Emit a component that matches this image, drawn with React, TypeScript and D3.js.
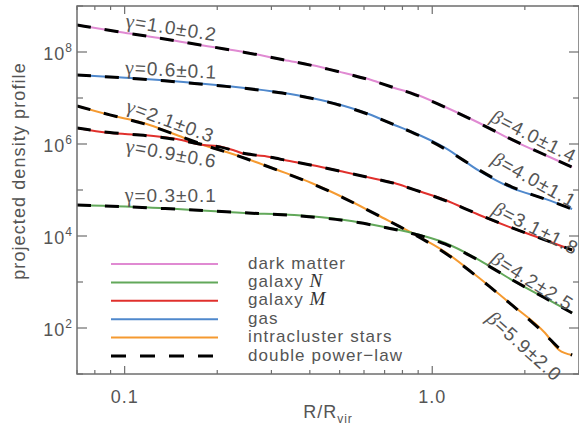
import React from "react";
import * as d3 from "d3";

const W = 579;
const H = 436;
const PLOT = { left: 77, right: 579, top: 6, bottom: 374 };

// ---- data ----
const darkMatterR = [0.070, 0.0964, 0.130, 0.1753, 0.2454, 0.330, 0.405, 0.518, 0.634, 0.753, 0.861, 1.102, 1.422, 1.818, 2.328, 2.849];
const darkMatterRho = [3.86e8, 2.72e8, 2.01e8, 1.42e8, 1.0e8, 6.7e7, 5.2e7, 3.49e7, 2.46e7, 1.65e7, 1.28e7, 6.37e6, 2.86e6, 1.22e6, 5.77e5, 3.16e5];

const gasR = [0.070, 0.130, 0.2454, 0.330, 0.405, 0.518, 0.634, 0.753, 0.861, 1.102, 1.422, 1.818, 2.328, 2.849];
const gasRho = [3.16e7, 2.46e7, 1.65e7, 1.28e7, 1.0e7, 6.7e6, 4.27e6, 2.59e6, 1.82e6, 8.2e5, 2.6e5, 1.1e5, 6.4e4, 3.86e4];

const galaxyMR = [0.070, 0.0894, 0.1153, 0.1476, 0.1800, 0.2000, 0.2300, 0.2454, 0.285, 0.330, 0.405, 0.518, 0.634, 0.753, 0.861, 1.102, 1.422, 1.818, 2.328, 2.849];
const galaxyMRho = [2.23e6, 1.73e6, 1.57e6, 1.28e6, 9.5e5, 9.06e5, 7.05e5, 6.07e5, 5.48e5, 4.49e5, 3.49e5, 2.46e5, 1.82e5, 1.42e5, 1.05e5, 6.07e4, 2.86e4, 1.49e4, 8.2e3, 4.96e3];

const iclR = [0.070, 0.0894, 0.1153, 0.1476, 0.1800, 0.2143, 0.2454, 0.314, 0.405, 0.518, 0.663, 0.861, 1.102, 1.422, 1.818, 2.328, 2.583, 2.849];
const iclRho = [6.7e6, 4.27e6, 2.86e6, 1.57e6, 9.5e5, 6.7e5, 4.96e5, 2.72e5, 1.42e5, 6.7e4, 2.86e4, 1.16e4, 4.49e3, 1.22e3, 316, 77.8, 33.3, 25.9];

const galaxyNR = [0.070, 0.130, 0.2454, 0.356, 0.518, 0.698, 0.861, 1.102, 1.422, 1.818, 2.328, 2.849];
const galaxyNRho = [4.72e4, 4.06e4, 3.16e4, 2.86e4, 2.23e4, 1.57e4, 1.16e4, 7.05e3, 3.0e3, 1.1e3, 449, 212];

const seriesNames = ["dark matter", "galaxy N", "galaxy M", "gas", "intracluster stars"];
const seriesColors = ["#e08ad2", "#62a85a", "#e0302c", "#4f88cc", "#f59a30"];

const legendText = ["dark matter", "galaxy ", "galaxy ", "gas", "intracluster stars", "double power\u2212law"];
const legendItalic = ["", "N", "M", "", "", ""];

const xMajorTicks = [0.1, 1.0];
const xTickLabels = ["0.1", "1.0"];
const yDecades = [1, 2, 3, 4, 5, 6, 7, 8, 9];
const yLabelDecades = [2, 4, 6, 8];

const gammaText = ["1.0\u00b10.2", "0.6\u00b10.1", "2.1\u00b10.3", "0.9\u00b10.6", "0.3\u00b10.1"];
const gammaR = [0.1, 0.1, 0.1, 0.1, 0.1];
const gammaRho = [3.5e8, 3.33e7, 5.1e6, 6.7e5, 5.48e4];
const gammaAngle = [9, 3, 20, 10, 0];

const betaText = ["4.0\u00b11.4", "4.0\u00b11.1", "3.1\u00b11.8", "4.2\u00b12.5", "5.9\u00b12.0"];
const betaR = [1.531, 1.543, 1.554, 1.531, 1.486];
const betaRho = [3.16e6, 3.86e5, 3.16e4, 2.72e3, 149];
const betaAngle = [27, 29, 27, 32, 42];

const AXIS = "#6e6e6e";
const TEXT = "#555";
const SANS = "'Liberation Sans', Arial, Helvetica, sans-serif";
const SERIF = "'Liberation Serif', 'DejaVu Serif', serif";

export default function App() {
  const x = d3.scaleLog().domain([0.07, 3]).range([PLOT.left, PLOT.right]);
  const y = d3.scaleLog().domain([10, 1e9]).range([PLOT.bottom, PLOT.top]);

  const series = [
    { r: darkMatterR, rho: darkMatterRho },
    { r: galaxyNR, rho: galaxyNRho },
    { r: galaxyMR, rho: galaxyMRho },
    { r: gasR, rho: gasRho },
    { r: iclR, rho: iclRho },
  ];
  const drawOrder = [4, 1, 2, 3, 0];

  const line = d3
    .line<[number, number]>()
    .x((d) => x(d[0]))
    .y((d) => y(d[1]))
    .curve(d3.curveMonotoneX);
  const fitLine = d3
    .line<[number, number]>()
    .x((d) => x(d[0]))
    .y((d) => y(d[1]))
    .curve(d3.curveBasis);

  const xMinor: number[] = [];
  [0.01, 0.1, 1].forEach((dec) => {
    for (let k = 1; k <= 9; k++) {
      const v = k * dec;
      if (v >= 0.07 && v <= 3) xMinor.push(v);
    }
  });

  const legendY0 = 264;
  const legendStep = 18.4;

  return (
    <svg width={W} height={H} style={{ position: "absolute", left: 0, top: 0, background: "#fff" }}>
      <defs>
        <clipPath id="plotclip">
          <rect x={PLOT.left} y={PLOT.top} width={PLOT.right - PLOT.left} height={PLOT.bottom - PLOT.top} />
        </clipPath>
      </defs>
      <rect x={0} y={0} width={W} height={H} fill="#fff" />

      {/* curves */}
      <g clipPath="url(#plotclip)">
        {drawOrder.map((i) => {
          const s = series[i];
          const pts = s.r.map((r, j) => [r, s.rho[j]] as [number, number]);
          return (
            <path key={"c" + i} d={line(pts) || ""} fill="none" stroke={seriesColors[i]} strokeWidth={2} />
          );
        })}
        {drawOrder.map((i) => {
          const s = series[i];
          const pts = s.r.map((r, j) => [r, s.rho[j]] as [number, number]);
          return (
            <path
              key={"f" + i}
              d={fitLine(pts) || ""}
              fill="none"
              stroke="#000"
              strokeWidth={3}
              strokeDasharray="14,14"
            />
          );
        })}
      </g>

      {/* frame */}
      <rect
        x={PLOT.left}
        y={PLOT.top}
        width={PLOT.right - PLOT.left}
        height={PLOT.bottom - PLOT.top}
        fill="none"
        stroke={AXIS}
        strokeWidth={1.5}
      />

      {/* x ticks */}
      {xMinor.map((v, i) => {
        const major = xMajorTicks.some((m) => Math.abs(m - v) < 1e-9);
        const len = major ? 8 : 4;
        const px = x(v);
        return (
          <g key={"xt" + i}>
            <line x1={px} x2={px} y1={PLOT.bottom} y2={PLOT.bottom - len} stroke={AXIS} strokeWidth={1.2} />
            <line x1={px} x2={px} y1={PLOT.top} y2={PLOT.top + len} stroke={AXIS} strokeWidth={1.2} />
          </g>
        );
      })}
      {xMajorTicks.map((v, i) => (
        <text
          key={"xl" + i}
          x={x(v)}
          y={403}
          textAnchor="middle"
          fontFamily={SANS}
          fontSize={18}
          letterSpacing={1}
          fill={TEXT}
        >
          {xTickLabels[i]}
        </text>
      ))}

      {/* y ticks */}
      {yDecades.map((e) => {
        const py = y(Math.pow(10, e));
        const major = e % 2 === 0;
        const len = major ? 10 : 6;
        return (
          <g key={"yt" + e}>
            <line x1={PLOT.left} x2={PLOT.left + len} y1={py} y2={py} stroke={AXIS} strokeWidth={1.2} />
            <line x1={PLOT.right} x2={PLOT.right - len} y1={py} y2={py} stroke={AXIS} strokeWidth={1.2} />
          </g>
        );
      })}
      {yLabelDecades.map((e) => {
        const py = y(Math.pow(10, e));
        return (
          <text key={"yl" + e} x={73} y={py + 8} textAnchor="end" fontFamily={SANS} fontSize={18} fill={TEXT} letterSpacing={1}>
            <tspan>10</tspan>
            <tspan dy={-8} fontSize={12}>
              {String(e)}
            </tspan>
          </text>
        );
      })}

      {/* axis titles */}
      <text x={328} y={418} textAnchor="middle" fontFamily={SANS} fontSize={18} fill={TEXT} letterSpacing={1}>
        <tspan>R/R</tspan>
        <tspan dy={5} fontSize={12}>
          vir
        </tspan>
      </text>
      <text
        transform={`translate(25,171) rotate(-90)`}
        textAnchor="middle"
        fontFamily={SANS}
        fontSize={18}
        fill={TEXT}
        letterSpacing={1.1}
      >
        projected density profile
      </text>

      {/* legend */}
      {legendText.map((t, i) => {
        const ly = legendY0 + i * legendStep;
        const isFit = i === 5;
        return (
          <g key={"lg" + i}>
            <line
              x1={111}
              x2={isFit ? 214 : 218}
              y1={ly}
              y2={ly}
              stroke={isFit ? "#000" : seriesColors[i]}
              strokeWidth={isFit ? 3 : 2}
              strokeDasharray={isFit ? "15,14" : undefined}
            />
            <text x={248} y={ly + 4.5} fontFamily={SANS} fontSize={17} fill={TEXT} letterSpacing={1.1}>
              {t}
              {legendItalic[i] ? (
                <tspan fontFamily={SERIF} fontStyle="italic" fontSize={19} fill="#333" letterSpacing={0}>
                  {legendItalic[i]}
                </tspan>
              ) : null}
            </text>
          </g>
        );
      })}

      {/* gamma labels */}
      {gammaText.map((t, i) => (
        <text
          key={"g" + i}
          transform={`translate(${x(gammaR[i])},${y(gammaRho[i])}) rotate(${gammaAngle[i]})`}
          fontFamily={SANS}
          fontSize={19}
          fill={TEXT}
          letterSpacing={1}
        >
          <tspan fontFamily={SERIF} fontSize={20}>
            {"\u03b3"}
          </tspan>
          <tspan>{"=" + t}</tspan>
        </text>
      ))}

      {/* beta labels */}
      {betaText.map((t, i) => (
        <text
          key={"b" + i}
          transform={`translate(${x(betaR[i])},${y(betaRho[i])}) rotate(${betaAngle[i]})`}
          fontFamily={SANS}
          fontSize={19}
          fill={TEXT}
          letterSpacing={1}
        >
          <tspan fontFamily={SERIF} fontStyle="italic" fontSize={20}>
            {"\u03b2"}
          </tspan>
          <tspan>{"=" + t}</tspan>
        </text>
      ))}
    </svg>
  );
}
